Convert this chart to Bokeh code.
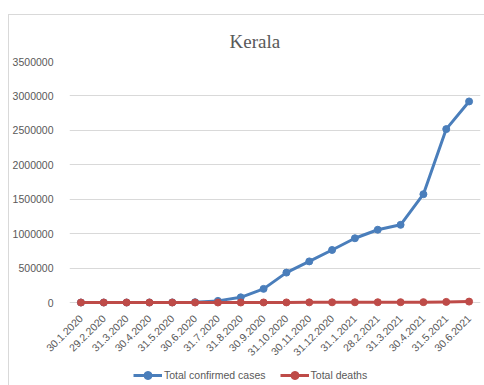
from math import pi

from bokeh.embed import file_html
from bokeh.resources import INLINE
from bokeh.plotting import figure
from bokeh.layouts import column
from bokeh.models import (FactorRange, Range1d, FixedTicker, BasicTickFormatter,
                          Legend, LegendItem)

# Month-end dates for Kerala
dates = ["30.1.2020", "29.2.2020", "31.3.2020", "30.4.2020", "31.5.2020",
         "30.6.2020", "31.7.2020", "31.8.2020", "30.9.2020", "31.10.2020",
         "30.11.2020", "31.12.2020", "31.1.2021", "28.2.2021", "31.3.2021",
         "30.4.2021", "31.5.2021", "30.6.2021"]

# Cumulative confirmed cases
confirmed = [1, 3, 241, 497, 1269, 4753, 23600, 75400, 198000, 434000,
             597000, 763000, 933000, 1057000, 1128000, 1573000, 2518000, 2920000]

# Cumulative deaths
deaths = [0, 0, 2, 3, 7, 25, 73, 294, 742, 1403,
          2244, 3014, 3607, 4105, 4628, 5449, 9011, 13235]

y_ticks = [0, 500000, 1000000, 1500000, 2000000, 2500000, 3000000, 3500000]

series_names = ["Total confirmed cases", "Total deaths"]

BLUE = "#4a7ebb"
RED = "#be4b48"
GRID = "#d9d9d9"
TEXT = "#595959"
FONT = "Liberation Sans"

# a little room below zero so the markers on the baseline are not cut
p = figure(width=476, height=349,
           x_range=FactorRange(*dates, range_padding=0),
           y_range=Range1d(-87000, 3500000),
           output_backend="svg", toolbar_location=None,
           min_border_left=59, min_border_right=5,
           min_border_top=46, min_border_bottom=56)

p.title.text = "Kerala"
p.title.align = "left"
p.title.offset = 160
p.title.standoff = 20
p.title.text_font = "Liberation Serif"
p.title.text_font_size = "19px"
p.title.text_font_style = "normal"
p.title.text_color = TEXT

p.outline_line_color = None
p.background_fill_color = "white"
p.border_fill_color = "white"

p.xgrid.grid_line_color = None
p.ygrid.grid_line_color = GRID
p.ygrid.grid_line_width = 1

p.yaxis.ticker = FixedTicker(ticks=y_ticks)
p.yaxis.formatter = BasicTickFormatter(use_scientific=False)
p.yaxis.axis_line_color = None
p.yaxis.major_tick_line_color = None
p.yaxis.minor_tick_line_color = None
p.yaxis.major_label_text_font = FONT
p.yaxis.major_label_text_font_size = "10.5px"
p.yaxis.major_label_text_color = TEXT
p.yaxis.major_label_standoff = 10

p.xaxis.axis_line_color = None
p.xaxis.major_tick_line_color = None
p.xaxis.minor_tick_line_color = None
p.xaxis.major_label_orientation = pi / 4
p.xaxis.major_label_text_font = FONT
p.xaxis.major_label_text_font_size = "10.5px"
p.xaxis.major_label_text_color = TEXT
p.xaxis.major_label_standoff = 2

p.line(dates, confirmed, line_color=BLUE, line_width=3)
p.scatter(dates, confirmed, size=7, fill_color=BLUE, line_color=BLUE)
p.line(dates, deaths, line_color=RED, line_width=3)
p.scatter(dates, deaths, size=7, fill_color=RED, line_color=RED)

# legend strip underneath the chart; its renderers carry the same series but
# the strip's y range lies below zero, so only the legend swatches show
key = figure(width=476, height=22, output_backend="svg", toolbar_location=None,
             x_range=FactorRange(*dates, range_padding=0),
             y_range=Range1d(-2, -1),
             min_border=0, outline_line_color=None)
key.axis.visible = False
key.grid.visible = False
items = []
for name, values, colour in zip(series_names, [confirmed, deaths], [BLUE, RED]):
    ln = key.line(dates, values, line_color=colour, line_width=3)
    mk = key.scatter(dates, values, size=7, fill_color=colour, line_color=colour)
    items.append(LegendItem(label=name, renderers=[ln, mk]))
legend = Legend(items=items, orientation="horizontal", location=(64, 1),
                label_text_font=FONT, label_text_font_size="10.5px",
                label_text_color=TEXT, border_line_color=None,
                background_fill_alpha=0, glyph_width=29, spacing=14,
                label_standoff=2, margin=0, padding=0)
key.add_layout(legend, "center")

page = column(p, key, spacing=0, margin=(14, 0, 0, 8),
              styles={"border-left": "1px solid #d9d9d9",
                      "border-top": "1px solid #d9d9d9"})

open("out.html", "w").write(file_html(page, INLINE))
